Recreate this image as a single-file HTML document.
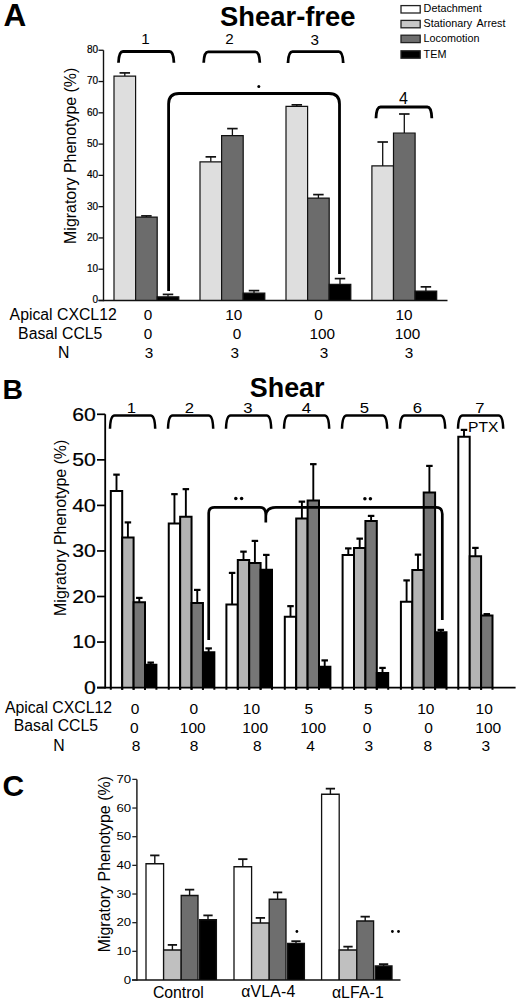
<!DOCTYPE html>
<html><head><meta charset="utf-8"><style>
html,body{margin:0;padding:0;background:#fff;}
svg{display:block;}
text{font-family:"Liberation Sans",sans-serif;fill:#000;}
</style></head><body>
<svg width="520" height="1002" viewBox="0 0 520 1002">
<rect x="0" y="0" width="520" height="1002" fill="#fff"/>
<text x="3.60" y="25.80" font-size="31.5" text-anchor="start" font-weight="bold" >A</text>
<text x="220.00" y="25.50" font-size="27.4" text-anchor="start" font-weight="bold" >Shear-free</text>
<rect x="401.00" y="5.60" width="19.20" height="7.40" fill="#ffffff" stroke="#222" stroke-width="1.3"/>
<text x="423.60" y="11.90" font-size="10.8" text-anchor="start" >Detachment</text>
<rect x="401.00" y="20.40" width="19.20" height="7.40" fill="#c8c8c8" stroke="#222" stroke-width="1.3"/>
<text x="423.60" y="26.90" font-size="10.8" text-anchor="start" word-spacing="2">Stationary Arrest</text>
<rect x="401.00" y="35.20" width="19.20" height="7.40" fill="#6e6e6e" stroke="#222" stroke-width="1.3"/>
<text x="423.60" y="42.30" font-size="10.8" text-anchor="start" >Locomotion</text>
<rect x="401.00" y="50.80" width="19.20" height="7.40" fill="#000000" stroke="#222" stroke-width="1.3"/>
<text x="423.60" y="58.10" font-size="10.8" text-anchor="start" >TEM</text>
<line x1="124.80" y1="76.10" x2="124.80" y2="72.90" stroke="#111" stroke-width="1.3"/>
<line x1="119.55" y1="72.90" x2="130.05" y2="72.90" stroke="#111" stroke-width="1.7"/>
<rect x="114.00" y="76.10" width="21.60" height="224.40" fill="#dedede"/>
<path d="M114.00 300.50 L114.00 76.10 L135.60 76.10 L135.60 300.50" fill="none" stroke="#111" stroke-width="1.2" stroke-linejoin="miter"/>
<line x1="146.40" y1="217.10" x2="146.40" y2="215.90" stroke="#111" stroke-width="1.3"/>
<line x1="141.15" y1="215.90" x2="151.65" y2="215.90" stroke="#111" stroke-width="1.7"/>
<rect x="135.60" y="217.10" width="21.60" height="83.40" fill="#6c6c6c"/>
<path d="M135.60 300.50 L135.60 217.10 L157.20 217.10 L157.20 300.50" fill="none" stroke="#111" stroke-width="1.2" stroke-linejoin="miter"/>
<line x1="168.00" y1="296.80" x2="168.00" y2="294.40" stroke="#111" stroke-width="1.3"/>
<line x1="162.75" y1="294.40" x2="173.25" y2="294.40" stroke="#111" stroke-width="1.7"/>
<rect x="157.20" y="296.80" width="21.60" height="3.70" fill="#000"/>
<path d="M157.20 300.50 L157.20 296.80 L178.80 296.80 L178.80 300.50" fill="none" stroke="#111" stroke-width="1.2" stroke-linejoin="miter"/>
<line x1="210.80" y1="161.85" x2="210.80" y2="156.85" stroke="#111" stroke-width="1.3"/>
<line x1="205.55" y1="156.85" x2="216.05" y2="156.85" stroke="#111" stroke-width="1.7"/>
<rect x="200.00" y="161.85" width="21.60" height="138.65" fill="#dedede"/>
<path d="M200.00 300.50 L200.00 161.85 L221.60 161.85 L221.60 300.50" fill="none" stroke="#111" stroke-width="1.2" stroke-linejoin="miter"/>
<line x1="232.40" y1="135.60" x2="232.40" y2="128.60" stroke="#111" stroke-width="1.3"/>
<line x1="227.15" y1="128.60" x2="237.65" y2="128.60" stroke="#111" stroke-width="1.7"/>
<rect x="221.60" y="135.60" width="21.60" height="164.90" fill="#6c6c6c"/>
<path d="M221.60 300.50 L221.60 135.60 L243.20 135.60 L243.20 300.50" fill="none" stroke="#111" stroke-width="1.2" stroke-linejoin="miter"/>
<line x1="254.00" y1="293.10" x2="254.00" y2="290.60" stroke="#111" stroke-width="1.3"/>
<line x1="248.75" y1="290.60" x2="259.25" y2="290.60" stroke="#111" stroke-width="1.7"/>
<rect x="243.20" y="293.10" width="21.60" height="7.40" fill="#000"/>
<path d="M243.20 300.50 L243.20 293.10 L264.80 293.10 L264.80 300.50" fill="none" stroke="#111" stroke-width="1.2" stroke-linejoin="miter"/>
<line x1="296.80" y1="106.35" x2="296.80" y2="104.85" stroke="#111" stroke-width="1.3"/>
<line x1="291.55" y1="104.85" x2="302.05" y2="104.85" stroke="#111" stroke-width="1.7"/>
<rect x="286.00" y="106.35" width="21.60" height="194.15" fill="#dedede"/>
<path d="M286.00 300.50 L286.00 106.35 L307.60 106.35 L307.60 300.50" fill="none" stroke="#111" stroke-width="1.2" stroke-linejoin="miter"/>
<line x1="318.40" y1="198.10" x2="318.40" y2="194.60" stroke="#111" stroke-width="1.3"/>
<line x1="313.15" y1="194.60" x2="323.65" y2="194.60" stroke="#111" stroke-width="1.7"/>
<rect x="307.60" y="198.10" width="21.60" height="102.40" fill="#6c6c6c"/>
<path d="M307.60 300.50 L307.60 198.10 L329.20 198.10 L329.20 300.50" fill="none" stroke="#111" stroke-width="1.2" stroke-linejoin="miter"/>
<line x1="340.00" y1="284.35" x2="340.00" y2="278.60" stroke="#111" stroke-width="1.3"/>
<line x1="334.75" y1="278.60" x2="345.25" y2="278.60" stroke="#111" stroke-width="1.7"/>
<rect x="329.20" y="284.35" width="21.60" height="16.15" fill="#000"/>
<path d="M329.20 300.50 L329.20 284.35 L350.80 284.35 L350.80 300.50" fill="none" stroke="#111" stroke-width="1.2" stroke-linejoin="miter"/>
<line x1="382.70" y1="165.90" x2="382.70" y2="142.00" stroke="#111" stroke-width="1.3"/>
<line x1="377.45" y1="142.00" x2="387.95" y2="142.00" stroke="#111" stroke-width="1.7"/>
<rect x="371.90" y="165.90" width="21.60" height="134.60" fill="#dedede"/>
<path d="M371.90 300.50 L371.90 165.90 L393.50 165.90 L393.50 300.50" fill="none" stroke="#111" stroke-width="1.2" stroke-linejoin="miter"/>
<line x1="404.30" y1="133.00" x2="404.30" y2="114.00" stroke="#111" stroke-width="1.3"/>
<line x1="399.05" y1="114.00" x2="409.55" y2="114.00" stroke="#111" stroke-width="1.7"/>
<rect x="393.50" y="133.00" width="21.60" height="167.50" fill="#6c6c6c"/>
<path d="M393.50 300.50 L393.50 133.00 L415.10 133.00 L415.10 300.50" fill="none" stroke="#111" stroke-width="1.2" stroke-linejoin="miter"/>
<line x1="425.90" y1="291.10" x2="425.90" y2="286.85" stroke="#111" stroke-width="1.3"/>
<line x1="420.65" y1="286.85" x2="431.15" y2="286.85" stroke="#111" stroke-width="1.7"/>
<rect x="415.10" y="291.10" width="21.60" height="9.40" fill="#000"/>
<path d="M415.10 300.50 L415.10 291.10 L436.70 291.10 L436.70 300.50" fill="none" stroke="#111" stroke-width="1.2" stroke-linejoin="miter"/>
<line x1="103.50" y1="50.26" x2="103.50" y2="301.20" stroke="#111" stroke-width="1.4"/>
<line x1="98.50" y1="300.50" x2="447.50" y2="300.50" stroke="#111" stroke-width="1.5"/>
<line x1="98.50" y1="300.50" x2="103.50" y2="300.50" stroke="#111" stroke-width="1.3"/>
<text x="98.00" y="303.40" font-size="10.0" text-anchor="end" stroke="#000" stroke-width="0.2">0</text>
<line x1="98.50" y1="269.22" x2="103.50" y2="269.22" stroke="#111" stroke-width="1.3"/>
<text x="98.00" y="272.12" font-size="10.0" text-anchor="end" stroke="#000" stroke-width="0.2">10</text>
<line x1="98.50" y1="237.94" x2="103.50" y2="237.94" stroke="#111" stroke-width="1.3"/>
<text x="98.00" y="240.84" font-size="10.0" text-anchor="end" stroke="#000" stroke-width="0.2">20</text>
<line x1="98.50" y1="206.66" x2="103.50" y2="206.66" stroke="#111" stroke-width="1.3"/>
<text x="98.00" y="209.56" font-size="10.0" text-anchor="end" stroke="#000" stroke-width="0.2">30</text>
<line x1="98.50" y1="175.38" x2="103.50" y2="175.38" stroke="#111" stroke-width="1.3"/>
<text x="98.00" y="178.28" font-size="10.0" text-anchor="end" stroke="#000" stroke-width="0.2">40</text>
<line x1="98.50" y1="144.10" x2="103.50" y2="144.10" stroke="#111" stroke-width="1.3"/>
<text x="98.00" y="147.00" font-size="10.0" text-anchor="end" stroke="#000" stroke-width="0.2">50</text>
<line x1="98.50" y1="112.82" x2="103.50" y2="112.82" stroke="#111" stroke-width="1.3"/>
<text x="98.00" y="115.72" font-size="10.0" text-anchor="end" stroke="#000" stroke-width="0.2">60</text>
<line x1="98.50" y1="81.54" x2="103.50" y2="81.54" stroke="#111" stroke-width="1.3"/>
<text x="98.00" y="84.44" font-size="10.0" text-anchor="end" stroke="#000" stroke-width="0.2">70</text>
<line x1="98.50" y1="50.26" x2="103.50" y2="50.26" stroke="#111" stroke-width="1.3"/>
<text x="98.00" y="53.16" font-size="10.0" text-anchor="end" stroke="#000" stroke-width="0.2">80</text>
<text transform="translate(76.0 155.8) rotate(-90)" font-size="15.95" text-anchor="middle">Migratory Phenotype (%)</text>
<path d="M118.50 62.80 C118.70 56.59 119.70 51.50 123.00 51.50 L169.40 51.50 C172.70 51.50 173.70 56.59 173.90 62.80" fill="none" stroke="#000" stroke-width="2.8"/>
<path d="M203.70 62.80 C203.90 56.80 204.90 51.90 208.20 51.90 L255.30 51.90 C258.60 51.90 259.60 56.80 259.80 62.80" fill="none" stroke="#000" stroke-width="2.8"/>
<path d="M288.00 63.00 C288.20 56.73 289.20 51.60 292.50 51.60 L338.70 51.60 C342.00 51.60 343.00 56.73 343.20 63.00" fill="none" stroke="#000" stroke-width="2.8"/>
<path d="M376.00 118.30 C376.20 112.08 377.20 107.00 380.50 107.00 L427.30 107.00 C430.60 107.00 431.60 112.08 431.80 118.30" fill="none" stroke="#000" stroke-width="2.8"/>
<text x="145.40" y="44.30" font-size="15.2" text-anchor="middle" >1</text>
<text x="229.40" y="44.40" font-size="15.2" text-anchor="middle" >2</text>
<text x="314.70" y="44.50" font-size="15.2" text-anchor="middle" >3</text>
<text x="403.40" y="104.00" font-size="16.0" text-anchor="middle" >4</text>
<path d="M168.6 291 L168.6 104 Q168.6 93.5 179 93.5 L329 93.5 Q339.5 93.5 339.5 104 L339.5 274" fill="none" stroke="#000" stroke-width="2.8"/>
<circle cx="258.80" cy="86.50" r="1.5" fill="#000"/>
<text x="9.60" y="319.80" font-size="15.8" text-anchor="start" >Apical CXCL12</text>
<text x="18.10" y="338.80" font-size="15.8" text-anchor="start" >Basal CCL5</text>
<text x="57.90" y="357.50" font-size="15.8" text-anchor="start" >N</text>
<text x="148.00" y="320.40" font-size="15.3" text-anchor="middle" >0</text>
<text x="148.00" y="339.20" font-size="15.3" text-anchor="middle" >0</text>
<text x="149.00" y="357.60" font-size="15.3" text-anchor="middle" >3</text>
<text x="233.80" y="320.40" font-size="15.3" text-anchor="middle" >10</text>
<text x="237.10" y="339.20" font-size="15.3" text-anchor="middle" >0</text>
<text x="234.80" y="357.60" font-size="15.3" text-anchor="middle" >3</text>
<text x="318.40" y="320.40" font-size="15.3" text-anchor="middle" >0</text>
<text x="322.30" y="339.20" font-size="15.3" text-anchor="middle" >100</text>
<text x="324.00" y="357.60" font-size="15.3" text-anchor="middle" >3</text>
<text x="403.90" y="320.40" font-size="15.3" text-anchor="middle" >10</text>
<text x="407.50" y="339.20" font-size="15.3" text-anchor="middle" >100</text>
<text x="409.10" y="357.60" font-size="15.3" text-anchor="middle" >3</text>
<text x="2.60" y="398.80" font-size="28.3" text-anchor="start" font-weight="bold" >B</text>
<text x="249.80" y="396.90" font-size="26.9" text-anchor="start" font-weight="bold" >Shear</text>
<line x1="116.50" y1="491.10" x2="116.50" y2="474.65" stroke="#000" stroke-width="1.9"/>
<line x1="113.25" y1="474.65" x2="119.75" y2="474.65" stroke="#000" stroke-width="2.2"/>
<rect x="110.80" y="491.10" width="11.40" height="196.50" fill="#fff"/>
<path d="M110.80 689.80 L110.80 491.10 L122.20 491.10 L122.20 689.80" fill="none" stroke="#000" stroke-width="2.0" stroke-linejoin="miter"/>
<line x1="127.90" y1="537.60" x2="127.90" y2="522.40" stroke="#000" stroke-width="1.9"/>
<line x1="124.65" y1="522.40" x2="131.15" y2="522.40" stroke="#000" stroke-width="2.2"/>
<rect x="122.20" y="537.60" width="11.40" height="150.00" fill="#b4b4b4"/>
<path d="M122.20 689.80 L122.20 537.60 L133.60 537.60 L133.60 689.80" fill="none" stroke="#000" stroke-width="2.0" stroke-linejoin="miter"/>
<line x1="139.30" y1="602.35" x2="139.30" y2="597.90" stroke="#000" stroke-width="1.9"/>
<line x1="136.05" y1="597.90" x2="142.55" y2="597.90" stroke="#000" stroke-width="2.2"/>
<rect x="133.60" y="602.35" width="11.40" height="85.25" fill="#767676"/>
<path d="M133.60 689.80 L133.60 602.35 L145.00 602.35 L145.00 689.80" fill="none" stroke="#000" stroke-width="2.0" stroke-linejoin="miter"/>
<line x1="150.70" y1="664.80" x2="150.70" y2="662.60" stroke="#000" stroke-width="1.9"/>
<line x1="147.45" y1="662.60" x2="153.95" y2="662.60" stroke="#000" stroke-width="2.2"/>
<rect x="145.00" y="664.80" width="11.40" height="22.80" fill="#000"/>
<path d="M145.00 689.80 L145.00 664.80 L156.40 664.80 L156.40 689.80" fill="none" stroke="#000" stroke-width="2.0" stroke-linejoin="miter"/>
<line x1="174.45" y1="523.60" x2="174.45" y2="494.15" stroke="#000" stroke-width="1.9"/>
<line x1="171.20" y1="494.15" x2="177.70" y2="494.15" stroke="#000" stroke-width="2.2"/>
<rect x="168.75" y="523.60" width="11.40" height="164.00" fill="#fff"/>
<path d="M168.75 689.80 L168.75 523.60 L180.15 523.60 L180.15 689.80" fill="none" stroke="#000" stroke-width="2.0" stroke-linejoin="miter"/>
<line x1="185.85" y1="516.85" x2="185.85" y2="489.15" stroke="#000" stroke-width="1.9"/>
<line x1="182.60" y1="489.15" x2="189.10" y2="489.15" stroke="#000" stroke-width="2.2"/>
<rect x="180.15" y="516.85" width="11.40" height="170.75" fill="#b4b4b4"/>
<path d="M180.15 689.80 L180.15 516.85 L191.55 516.85 L191.55 689.80" fill="none" stroke="#000" stroke-width="2.0" stroke-linejoin="miter"/>
<line x1="197.25" y1="603.10" x2="197.25" y2="589.90" stroke="#000" stroke-width="1.9"/>
<line x1="194.00" y1="589.90" x2="200.50" y2="589.90" stroke="#000" stroke-width="2.2"/>
<rect x="191.55" y="603.10" width="11.40" height="84.50" fill="#767676"/>
<path d="M191.55 689.80 L191.55 603.10 L202.95 603.10 L202.95 689.80" fill="none" stroke="#000" stroke-width="2.0" stroke-linejoin="miter"/>
<line x1="208.65" y1="652.35" x2="208.65" y2="648.40" stroke="#000" stroke-width="1.9"/>
<line x1="205.40" y1="648.40" x2="211.90" y2="648.40" stroke="#000" stroke-width="2.2"/>
<rect x="202.95" y="652.35" width="11.40" height="35.25" fill="#000"/>
<path d="M202.95 689.80 L202.95 652.35 L214.35 652.35 L214.35 689.80" fill="none" stroke="#000" stroke-width="2.0" stroke-linejoin="miter"/>
<line x1="232.10" y1="604.60" x2="232.10" y2="572.90" stroke="#000" stroke-width="1.9"/>
<line x1="228.85" y1="572.90" x2="235.35" y2="572.90" stroke="#000" stroke-width="2.2"/>
<rect x="226.40" y="604.60" width="11.40" height="83.00" fill="#fff"/>
<path d="M226.40 689.80 L226.40 604.60 L237.80 604.60 L237.80 689.80" fill="none" stroke="#000" stroke-width="2.0" stroke-linejoin="miter"/>
<line x1="243.50" y1="560.10" x2="243.50" y2="551.65" stroke="#000" stroke-width="1.9"/>
<line x1="240.25" y1="551.65" x2="246.75" y2="551.65" stroke="#000" stroke-width="2.2"/>
<rect x="237.80" y="560.10" width="11.40" height="127.50" fill="#b4b4b4"/>
<path d="M237.80 689.80 L237.80 560.10 L249.20 560.10 L249.20 689.80" fill="none" stroke="#000" stroke-width="2.0" stroke-linejoin="miter"/>
<line x1="254.90" y1="563.10" x2="254.90" y2="540.90" stroke="#000" stroke-width="1.9"/>
<line x1="251.65" y1="540.90" x2="258.15" y2="540.90" stroke="#000" stroke-width="2.2"/>
<rect x="249.20" y="563.10" width="11.40" height="124.50" fill="#767676"/>
<path d="M249.20 689.80 L249.20 563.10 L260.60 563.10 L260.60 689.80" fill="none" stroke="#000" stroke-width="2.0" stroke-linejoin="miter"/>
<line x1="266.30" y1="569.85" x2="266.30" y2="554.90" stroke="#000" stroke-width="1.9"/>
<line x1="263.05" y1="554.90" x2="269.55" y2="554.90" stroke="#000" stroke-width="2.2"/>
<rect x="260.60" y="569.85" width="11.40" height="117.75" fill="#000"/>
<path d="M260.60 689.80 L260.60 569.85 L272.00 569.85 L272.00 689.80" fill="none" stroke="#000" stroke-width="2.0" stroke-linejoin="miter"/>
<line x1="290.50" y1="616.85" x2="290.50" y2="606.15" stroke="#000" stroke-width="1.9"/>
<line x1="287.25" y1="606.15" x2="293.75" y2="606.15" stroke="#000" stroke-width="2.2"/>
<rect x="284.80" y="616.85" width="11.40" height="70.75" fill="#fff"/>
<path d="M284.80 689.80 L284.80 616.85 L296.20 616.85 L296.20 689.80" fill="none" stroke="#000" stroke-width="2.0" stroke-linejoin="miter"/>
<line x1="301.90" y1="518.60" x2="301.90" y2="501.65" stroke="#000" stroke-width="1.9"/>
<line x1="298.65" y1="501.65" x2="305.15" y2="501.65" stroke="#000" stroke-width="2.2"/>
<rect x="296.20" y="518.60" width="11.40" height="169.00" fill="#b4b4b4"/>
<path d="M296.20 689.80 L296.20 518.60 L307.60 518.60 L307.60 689.80" fill="none" stroke="#000" stroke-width="2.0" stroke-linejoin="miter"/>
<line x1="313.30" y1="500.60" x2="313.30" y2="464.15" stroke="#000" stroke-width="1.9"/>
<line x1="310.05" y1="464.15" x2="316.55" y2="464.15" stroke="#000" stroke-width="2.2"/>
<rect x="307.60" y="500.60" width="11.40" height="187.00" fill="#767676"/>
<path d="M307.60 689.80 L307.60 500.60 L319.00 500.60 L319.00 689.80" fill="none" stroke="#000" stroke-width="2.0" stroke-linejoin="miter"/>
<line x1="324.70" y1="666.85" x2="324.70" y2="660.40" stroke="#000" stroke-width="1.9"/>
<line x1="321.45" y1="660.40" x2="327.95" y2="660.40" stroke="#000" stroke-width="2.2"/>
<rect x="319.00" y="666.85" width="11.40" height="20.75" fill="#000"/>
<path d="M319.00 689.80 L319.00 666.85 L330.40 666.85 L330.40 689.80" fill="none" stroke="#000" stroke-width="2.0" stroke-linejoin="miter"/>
<line x1="348.30" y1="555.10" x2="348.30" y2="548.40" stroke="#000" stroke-width="1.9"/>
<line x1="345.05" y1="548.40" x2="351.55" y2="548.40" stroke="#000" stroke-width="2.2"/>
<rect x="342.60" y="555.10" width="11.40" height="132.50" fill="#fff"/>
<path d="M342.60 689.80 L342.60 555.10 L354.00 555.10 L354.00 689.80" fill="none" stroke="#000" stroke-width="2.0" stroke-linejoin="miter"/>
<line x1="359.70" y1="548.10" x2="359.70" y2="538.65" stroke="#000" stroke-width="1.9"/>
<line x1="356.45" y1="538.65" x2="362.95" y2="538.65" stroke="#000" stroke-width="2.2"/>
<rect x="354.00" y="548.10" width="11.40" height="139.50" fill="#b4b4b4"/>
<path d="M354.00 689.80 L354.00 548.10 L365.40 548.10 L365.40 689.80" fill="none" stroke="#000" stroke-width="2.0" stroke-linejoin="miter"/>
<line x1="371.10" y1="521.10" x2="371.10" y2="515.90" stroke="#000" stroke-width="1.9"/>
<line x1="367.85" y1="515.90" x2="374.35" y2="515.90" stroke="#000" stroke-width="2.2"/>
<rect x="365.40" y="521.10" width="11.40" height="166.50" fill="#767676"/>
<path d="M365.40 689.80 L365.40 521.10 L376.80 521.10 L376.80 689.80" fill="none" stroke="#000" stroke-width="2.0" stroke-linejoin="miter"/>
<line x1="382.50" y1="673.10" x2="382.50" y2="667.90" stroke="#000" stroke-width="1.9"/>
<line x1="379.25" y1="667.90" x2="385.75" y2="667.90" stroke="#000" stroke-width="2.2"/>
<rect x="376.80" y="673.10" width="11.40" height="14.50" fill="#000"/>
<path d="M376.80 689.80 L376.80 673.10 L388.20 673.10 L388.20 689.80" fill="none" stroke="#000" stroke-width="2.0" stroke-linejoin="miter"/>
<line x1="406.60" y1="601.85" x2="406.60" y2="580.40" stroke="#000" stroke-width="1.9"/>
<line x1="403.35" y1="580.40" x2="409.85" y2="580.40" stroke="#000" stroke-width="2.2"/>
<rect x="400.90" y="601.85" width="11.40" height="85.75" fill="#fff"/>
<path d="M400.90 689.80 L400.90 601.85 L412.30 601.85 L412.30 689.80" fill="none" stroke="#000" stroke-width="2.0" stroke-linejoin="miter"/>
<line x1="418.00" y1="570.10" x2="418.00" y2="554.65" stroke="#000" stroke-width="1.9"/>
<line x1="414.75" y1="554.65" x2="421.25" y2="554.65" stroke="#000" stroke-width="2.2"/>
<rect x="412.30" y="570.10" width="11.40" height="117.50" fill="#b4b4b4"/>
<path d="M412.30 689.80 L412.30 570.10 L423.70 570.10 L423.70 689.80" fill="none" stroke="#000" stroke-width="2.0" stroke-linejoin="miter"/>
<line x1="429.40" y1="492.60" x2="429.40" y2="465.90" stroke="#000" stroke-width="1.9"/>
<line x1="426.15" y1="465.90" x2="432.65" y2="465.90" stroke="#000" stroke-width="2.2"/>
<rect x="423.70" y="492.60" width="11.40" height="195.00" fill="#767676"/>
<path d="M423.70 689.80 L423.70 492.60 L435.10 492.60 L435.10 689.80" fill="none" stroke="#000" stroke-width="2.0" stroke-linejoin="miter"/>
<line x1="440.80" y1="632.35" x2="440.80" y2="629.90" stroke="#000" stroke-width="1.9"/>
<line x1="437.55" y1="629.90" x2="444.05" y2="629.90" stroke="#000" stroke-width="2.2"/>
<rect x="435.10" y="632.35" width="11.40" height="55.25" fill="#000"/>
<path d="M435.10 689.80 L435.10 632.35 L446.50 632.35 L446.50 689.80" fill="none" stroke="#000" stroke-width="2.0" stroke-linejoin="miter"/>
<line x1="464.00" y1="436.85" x2="464.00" y2="429.90" stroke="#000" stroke-width="1.9"/>
<line x1="460.75" y1="429.90" x2="467.25" y2="429.90" stroke="#000" stroke-width="2.2"/>
<rect x="458.30" y="436.85" width="11.40" height="250.75" fill="#fff"/>
<path d="M458.30 689.80 L458.30 436.85 L469.70 436.85 L469.70 689.80" fill="none" stroke="#000" stroke-width="2.0" stroke-linejoin="miter"/>
<line x1="475.40" y1="556.35" x2="475.40" y2="547.90" stroke="#000" stroke-width="1.9"/>
<line x1="472.15" y1="547.90" x2="478.65" y2="547.90" stroke="#000" stroke-width="2.2"/>
<rect x="469.70" y="556.35" width="11.40" height="131.25" fill="#b4b4b4"/>
<path d="M469.70 689.80 L469.70 556.35 L481.10 556.35 L481.10 689.80" fill="none" stroke="#000" stroke-width="2.0" stroke-linejoin="miter"/>
<line x1="486.80" y1="615.60" x2="486.80" y2="614.15" stroke="#000" stroke-width="1.9"/>
<line x1="483.55" y1="614.15" x2="490.05" y2="614.15" stroke="#000" stroke-width="2.2"/>
<rect x="481.10" y="615.60" width="11.40" height="72.00" fill="#767676"/>
<path d="M481.10 689.80 L481.10 615.60 L492.50 615.60 L492.50 689.80" fill="none" stroke="#000" stroke-width="2.0" stroke-linejoin="miter"/>
<line x1="105.20" y1="414.30" x2="105.20" y2="688.40" stroke="#000" stroke-width="1.8"/>
<line x1="97.00" y1="687.60" x2="515.60" y2="687.60" stroke="#000" stroke-width="1.9"/>
<line x1="97.00" y1="687.60" x2="105.20" y2="687.60" stroke="#000" stroke-width="1.7"/>
<text transform="translate(95.80 694.00) scale(1.18 1)" font-size="18.0" text-anchor="end" stroke="#000" stroke-width="0.2">0</text>
<line x1="97.00" y1="642.05" x2="105.20" y2="642.05" stroke="#000" stroke-width="1.7"/>
<text transform="translate(95.80 648.45) scale(1.18 1)" font-size="18.0" text-anchor="end" stroke="#000" stroke-width="0.2">10</text>
<line x1="97.00" y1="596.50" x2="105.20" y2="596.50" stroke="#000" stroke-width="1.7"/>
<text transform="translate(95.80 602.90) scale(1.18 1)" font-size="18.0" text-anchor="end" stroke="#000" stroke-width="0.2">20</text>
<line x1="97.00" y1="550.95" x2="105.20" y2="550.95" stroke="#000" stroke-width="1.7"/>
<text transform="translate(95.80 557.35) scale(1.18 1)" font-size="18.0" text-anchor="end" stroke="#000" stroke-width="0.2">30</text>
<line x1="97.00" y1="505.40" x2="105.20" y2="505.40" stroke="#000" stroke-width="1.7"/>
<text transform="translate(95.80 511.80) scale(1.18 1)" font-size="18.0" text-anchor="end" stroke="#000" stroke-width="0.2">40</text>
<line x1="97.00" y1="459.85" x2="105.20" y2="459.85" stroke="#000" stroke-width="1.7"/>
<text transform="translate(95.80 466.25) scale(1.18 1)" font-size="18.0" text-anchor="end" stroke="#000" stroke-width="0.2">50</text>
<line x1="97.00" y1="414.30" x2="105.20" y2="414.30" stroke="#000" stroke-width="1.7"/>
<text transform="translate(95.80 420.70) scale(1.18 1)" font-size="18.0" text-anchor="end" stroke="#000" stroke-width="0.2">60</text>
<text transform="translate(65.7 527.8) rotate(-90)" font-size="15.95" text-anchor="middle">Migratory Phenotype (%)</text>
<path d="M110.00 428.80 C110.20 421.43 111.20 415.40 114.50 415.40 L150.70 415.40 C154.00 415.40 155.00 421.43 155.20 428.80" fill="none" stroke="#000" stroke-width="2.5"/>
<text transform="translate(131.40 413.40) scale(1.15 1)" font-size="14.5" text-anchor="middle" >1</text>
<path d="M168.00 428.80 C168.20 421.43 169.20 415.40 172.50 415.40 L208.70 415.40 C212.00 415.40 213.00 421.43 213.20 428.80" fill="none" stroke="#000" stroke-width="2.5"/>
<text transform="translate(189.30 413.40) scale(1.15 1)" font-size="14.5" text-anchor="middle" >2</text>
<path d="M226.00 428.80 C226.20 421.43 227.20 415.40 230.50 415.40 L266.70 415.40 C270.00 415.40 271.00 421.43 271.20 428.80" fill="none" stroke="#000" stroke-width="2.5"/>
<text transform="translate(247.80 413.40) scale(1.15 1)" font-size="14.5" text-anchor="middle" >3</text>
<path d="M284.00 428.80 C284.20 421.43 285.20 415.40 288.50 415.40 L324.70 415.40 C328.00 415.40 329.00 421.43 329.20 428.80" fill="none" stroke="#000" stroke-width="2.5"/>
<text transform="translate(306.30 413.40) scale(1.15 1)" font-size="14.5" text-anchor="middle" >4</text>
<path d="M342.00 428.80 C342.20 421.43 343.20 415.40 346.50 415.40 L382.70 415.40 C386.00 415.40 387.00 421.43 387.20 428.80" fill="none" stroke="#000" stroke-width="2.5"/>
<text transform="translate(364.50 413.40) scale(1.15 1)" font-size="14.5" text-anchor="middle" >5</text>
<path d="M400.00 428.80 C400.20 421.43 401.20 415.40 404.50 415.40 L440.70 415.40 C444.00 415.40 445.00 421.43 445.20 428.80" fill="none" stroke="#000" stroke-width="2.5"/>
<text transform="translate(417.50 413.40) scale(1.15 1)" font-size="14.5" text-anchor="middle" >6</text>
<path d="M458.00 428.80 C458.20 421.43 459.20 415.40 462.50 415.40 L498.70 415.40 C502.00 415.40 503.00 421.43 503.20 428.80" fill="none" stroke="#000" stroke-width="2.5"/>
<text transform="translate(480.00 413.40) scale(1.15 1)" font-size="14.5" text-anchor="middle" >7</text>
<text transform="translate(468.00 432.00) scale(1.04 1)" font-size="15.0" text-anchor="start" >PTX</text>
<path d="M208.7 640 L208.7 513 Q208.7 507.4 214.5 507.4 L260 507.4 Q265.8 507.4 265.8 514.5 L265.8 522.5 M265.8 516 Q266 507.4 276 507.4 L436 507.4 Q442.3 507.4 442.3 514 L442.3 620" fill="none" stroke="#000" stroke-width="2.7"/>
<circle cx="235.80" cy="498.60" r="1.75" fill="#000"/>
<circle cx="241.60" cy="498.60" r="1.75" fill="#000"/>
<circle cx="364.90" cy="498.70" r="1.75" fill="#000"/>
<circle cx="370.40" cy="498.70" r="1.75" fill="#000"/>
<text x="4.90" y="712.50" font-size="15.8" text-anchor="start" >Apical CXCL12</text>
<text x="13.80" y="731.30" font-size="15.8" text-anchor="start" >Basal CCL5</text>
<text x="53.30" y="751.20" font-size="15.8" text-anchor="start" >N</text>
<text x="135.00" y="713.50" font-size="15.5" text-anchor="middle" >0</text>
<text x="134.30" y="732.70" font-size="15.5" text-anchor="middle" >0</text>
<text x="136.00" y="751.30" font-size="15.5" text-anchor="middle" >8</text>
<text x="193.80" y="713.50" font-size="15.5" text-anchor="middle" >0</text>
<text x="192.80" y="732.70" font-size="15.5" text-anchor="middle" >100</text>
<text x="194.10" y="751.30" font-size="15.5" text-anchor="middle" >8</text>
<text x="251.40" y="713.50" font-size="15.5" text-anchor="middle" >10</text>
<text x="255.20" y="732.70" font-size="15.5" text-anchor="middle" >100</text>
<text x="257.20" y="751.30" font-size="15.5" text-anchor="middle" >8</text>
<text x="308.90" y="713.50" font-size="15.5" text-anchor="middle" >5</text>
<text x="313.10" y="732.70" font-size="15.5" text-anchor="middle" >100</text>
<text x="310.60" y="751.30" font-size="15.5" text-anchor="middle" >4</text>
<text x="368.20" y="713.50" font-size="15.5" text-anchor="middle" >5</text>
<text x="367.00" y="732.70" font-size="15.5" text-anchor="middle" >0</text>
<text x="368.90" y="751.30" font-size="15.5" text-anchor="middle" >3</text>
<text x="425.80" y="713.50" font-size="15.5" text-anchor="middle" >10</text>
<text x="428.60" y="732.70" font-size="15.5" text-anchor="middle" >0</text>
<text x="427.70" y="751.30" font-size="15.5" text-anchor="middle" >8</text>
<text x="484.20" y="713.50" font-size="15.5" text-anchor="middle" >10</text>
<text x="488.30" y="732.70" font-size="15.5" text-anchor="middle" >100</text>
<text x="485.70" y="751.30" font-size="15.5" text-anchor="middle" >3</text>
<text x="2.60" y="795.60" font-size="30.0" text-anchor="start" font-weight="bold" >C</text>
<line x1="154.80" y1="863.75" x2="154.80" y2="855.40" stroke="#111" stroke-width="1.4"/>
<line x1="150.15" y1="855.40" x2="159.45" y2="855.40" stroke="#111" stroke-width="1.8"/>
<rect x="146.00" y="863.75" width="17.60" height="116.25" fill="#fff"/>
<path d="M146.00 980.00 L146.00 863.75 L163.60 863.75 L163.60 980.00" fill="none" stroke="#111" stroke-width="1.3" stroke-linejoin="miter"/>
<line x1="172.40" y1="950.00" x2="172.40" y2="944.90" stroke="#111" stroke-width="1.4"/>
<line x1="167.75" y1="944.90" x2="177.05" y2="944.90" stroke="#111" stroke-width="1.8"/>
<rect x="163.60" y="950.00" width="17.60" height="30.00" fill="#c0c0c0"/>
<path d="M163.60 980.00 L163.60 950.00 L181.20 950.00 L181.20 980.00" fill="none" stroke="#111" stroke-width="1.3" stroke-linejoin="miter"/>
<line x1="189.60" y1="895.50" x2="189.60" y2="889.65" stroke="#111" stroke-width="1.4"/>
<line x1="184.95" y1="889.65" x2="194.25" y2="889.65" stroke="#111" stroke-width="1.8"/>
<rect x="181.20" y="895.50" width="16.80" height="84.50" fill="#6e6e6e"/>
<path d="M181.20 980.00 L181.20 895.50 L198.00 895.50 L198.00 980.00" fill="none" stroke="#111" stroke-width="1.3" stroke-linejoin="miter"/>
<line x1="208.00" y1="919.75" x2="208.00" y2="915.40" stroke="#111" stroke-width="1.4"/>
<line x1="203.35" y1="915.40" x2="212.65" y2="915.40" stroke="#111" stroke-width="1.8"/>
<rect x="199.60" y="919.75" width="16.80" height="60.25" fill="#000"/>
<path d="M199.60 980.00 L199.60 919.75 L216.40 919.75 L216.40 980.00" fill="none" stroke="#111" stroke-width="1.3" stroke-linejoin="miter"/>
<line x1="242.80" y1="866.75" x2="242.80" y2="859.15" stroke="#111" stroke-width="1.4"/>
<line x1="238.15" y1="859.15" x2="247.45" y2="859.15" stroke="#111" stroke-width="1.8"/>
<rect x="234.00" y="866.75" width="17.60" height="113.25" fill="#fff"/>
<path d="M234.00 980.00 L234.00 866.75 L251.60 866.75 L251.60 980.00" fill="none" stroke="#111" stroke-width="1.3" stroke-linejoin="miter"/>
<line x1="260.40" y1="923.00" x2="260.40" y2="917.90" stroke="#111" stroke-width="1.4"/>
<line x1="255.75" y1="917.90" x2="265.05" y2="917.90" stroke="#111" stroke-width="1.8"/>
<rect x="251.60" y="923.00" width="17.60" height="57.00" fill="#c0c0c0"/>
<path d="M251.60 980.00 L251.60 923.00 L269.20 923.00 L269.20 980.00" fill="none" stroke="#111" stroke-width="1.3" stroke-linejoin="miter"/>
<line x1="277.60" y1="899.25" x2="277.60" y2="892.40" stroke="#111" stroke-width="1.4"/>
<line x1="272.95" y1="892.40" x2="282.25" y2="892.40" stroke="#111" stroke-width="1.8"/>
<rect x="269.20" y="899.25" width="16.80" height="80.75" fill="#6e6e6e"/>
<path d="M269.20 980.00 L269.20 899.25 L286.00 899.25 L286.00 980.00" fill="none" stroke="#111" stroke-width="1.3" stroke-linejoin="miter"/>
<line x1="296.00" y1="943.30" x2="296.00" y2="941.20" stroke="#111" stroke-width="1.4"/>
<line x1="291.35" y1="941.20" x2="300.65" y2="941.20" stroke="#111" stroke-width="1.8"/>
<rect x="287.60" y="943.30" width="16.80" height="36.70" fill="#000"/>
<path d="M287.60 980.00 L287.60 943.30 L304.40 943.30 L304.40 980.00" fill="none" stroke="#111" stroke-width="1.3" stroke-linejoin="miter"/>
<line x1="330.40" y1="794.25" x2="330.40" y2="788.65" stroke="#111" stroke-width="1.4"/>
<line x1="325.75" y1="788.65" x2="335.05" y2="788.65" stroke="#111" stroke-width="1.8"/>
<rect x="321.60" y="794.25" width="17.60" height="185.75" fill="#fff"/>
<path d="M321.60 980.00 L321.60 794.25 L339.20 794.25 L339.20 980.00" fill="none" stroke="#111" stroke-width="1.3" stroke-linejoin="miter"/>
<line x1="348.00" y1="950.00" x2="348.00" y2="946.65" stroke="#111" stroke-width="1.4"/>
<line x1="343.35" y1="946.65" x2="352.65" y2="946.65" stroke="#111" stroke-width="1.8"/>
<rect x="339.20" y="950.00" width="17.60" height="30.00" fill="#c0c0c0"/>
<path d="M339.20 980.00 L339.20 950.00 L356.80 950.00 L356.80 980.00" fill="none" stroke="#111" stroke-width="1.3" stroke-linejoin="miter"/>
<line x1="365.20" y1="921.00" x2="365.20" y2="916.65" stroke="#111" stroke-width="1.4"/>
<line x1="360.55" y1="916.65" x2="369.85" y2="916.65" stroke="#111" stroke-width="1.8"/>
<rect x="356.80" y="921.00" width="16.80" height="59.00" fill="#6e6e6e"/>
<path d="M356.80 980.00 L356.80 921.00 L373.60 921.00 L373.60 980.00" fill="none" stroke="#111" stroke-width="1.3" stroke-linejoin="miter"/>
<line x1="383.60" y1="966.00" x2="383.60" y2="964.15" stroke="#111" stroke-width="1.4"/>
<line x1="378.95" y1="964.15" x2="388.25" y2="964.15" stroke="#111" stroke-width="1.8"/>
<rect x="375.20" y="966.00" width="16.80" height="14.00" fill="#000"/>
<path d="M375.20 980.00 L375.20 966.00 L392.00 966.00 L392.00 980.00" fill="none" stroke="#111" stroke-width="1.3" stroke-linejoin="miter"/>
<line x1="136.90" y1="779.38" x2="136.90" y2="980.70" stroke="#222" stroke-width="1.5"/>
<line x1="132.00" y1="980.00" x2="400.50" y2="980.00" stroke="#111" stroke-width="1.5"/>
<line x1="132.30" y1="980.00" x2="136.90" y2="980.00" stroke="#222" stroke-width="1.3"/>
<text transform="translate(131.20 983.60) scale(1.15 1)" font-size="11.5" text-anchor="end" >0</text>
<line x1="132.30" y1="951.34" x2="136.90" y2="951.34" stroke="#222" stroke-width="1.3"/>
<text transform="translate(131.20 954.94) scale(1.15 1)" font-size="11.5" text-anchor="end" >10</text>
<line x1="132.30" y1="922.68" x2="136.90" y2="922.68" stroke="#222" stroke-width="1.3"/>
<text transform="translate(131.20 926.28) scale(1.15 1)" font-size="11.5" text-anchor="end" >20</text>
<line x1="132.30" y1="894.02" x2="136.90" y2="894.02" stroke="#222" stroke-width="1.3"/>
<text transform="translate(131.20 897.62) scale(1.15 1)" font-size="11.5" text-anchor="end" >30</text>
<line x1="132.30" y1="865.36" x2="136.90" y2="865.36" stroke="#222" stroke-width="1.3"/>
<text transform="translate(131.20 868.96) scale(1.15 1)" font-size="11.5" text-anchor="end" >40</text>
<line x1="132.30" y1="836.70" x2="136.90" y2="836.70" stroke="#222" stroke-width="1.3"/>
<text transform="translate(131.20 840.30) scale(1.15 1)" font-size="11.5" text-anchor="end" >50</text>
<line x1="132.30" y1="808.04" x2="136.90" y2="808.04" stroke="#222" stroke-width="1.3"/>
<text transform="translate(131.20 811.64) scale(1.15 1)" font-size="11.5" text-anchor="end" >60</text>
<line x1="132.30" y1="779.38" x2="136.90" y2="779.38" stroke="#222" stroke-width="1.3"/>
<text transform="translate(131.20 782.98) scale(1.15 1)" font-size="11.5" text-anchor="end" >70</text>
<text transform="translate(110.2 864.2) rotate(-90)" font-size="15.95" text-anchor="middle">Migratory Phenotype (%)</text>
<circle cx="296.90" cy="931.50" r="1.4" fill="#000"/>
<circle cx="392.40" cy="931.50" r="1.4" fill="#000"/>
<circle cx="398.50" cy="931.50" r="1.4" fill="#000"/>
<text x="152.90" y="997.50" font-size="15.8" text-anchor="start" >Control</text>
<text x="241.20" y="997.20" font-size="15.8" text-anchor="start" letter-spacing="0.2">αVLA-4</text>
<text x="331.90" y="997.50" font-size="15.8" text-anchor="start" letter-spacing="0.1">αLFA-1</text>
</svg>
</body></html>
